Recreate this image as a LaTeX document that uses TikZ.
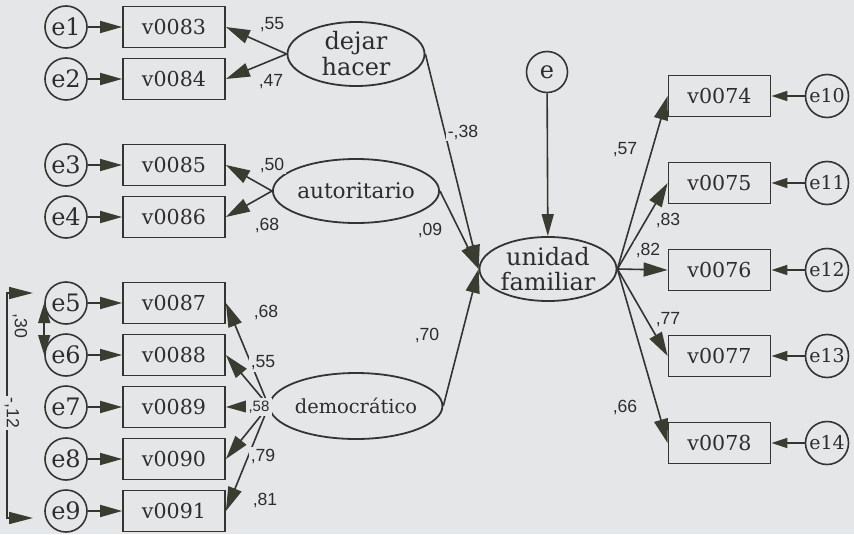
\documentclass[tikz,border=0pt]{standalone}
\usepackage{fontspec}
\newfontfamily\nodefont{DejaVu Serif}
\newfontfamily\labfont{Liberation Sans}
\usetikzlibrary{arrows.meta,shapes.geometric}
\definecolor{bg}{RGB}{229,230,232}
\definecolor{ln}{RGB}{52,52,50}
\definecolor{ah}{RGB}{58,60,50}
\definecolor{txt}{RGB}{45,45,45}
\begin{document}
\begin{tikzpicture}[x=0.5pt,y=-0.5pt,
  obs/.style={draw=ln, line width=0.9pt, rectangle, minimum width=51pt, minimum height=20.5pt,
    inner sep=0pt, text=txt, font=\nodefont\fontsize{10.3}{12}\selectfont},
  err/.style={draw=ln, line width=0.8pt, circle, minimum size=21pt, inner sep=0pt, text=txt,
    font=\nodefont\fontsize{12}{14}\selectfont},
  errs/.style={err, minimum size=21.5pt, font=\nodefont\fontsize{9.5}{11}\selectfont},
  lat/.style={draw=ln, line width=0.9pt, ellipse, minimum width=68.5pt, minimum height=32pt,
    inner sep=0pt, align=center, text=txt},
  arr/.style={draw=ln, line width=0.8pt, -{Triangle[length=11pt,width=6pt,color=ah]}},
  arrs/.style={draw=ln, line width=0.8pt, -{Triangle[length=8pt,width=5pt,color=ah]}},
  load/.style={draw=ln, line width=0.8pt, -{Triangle[length=12pt,width=7pt,color=ah]}},
  lab/.style={font=\labfont\fontsize{8.8}{10}\selectfont, text=txt, fill=bg, inner sep=1pt},
  labs/.style={lab, font=\labfont\fontsize{7.5}{8}\selectfont, inner sep=1.5pt}
]
\fill[bg] (0,0) rectangle (854,534);
\useasboundingbox (0,0) rectangle (854,534);

% left error terms and indicators
\node[err] (e1) at (66,27) {e1};
\node[err] (e2) at (66,79) {e2};
\node[err] (e3) at (66,165) {e3};
\node[err] (e4) at (66,217) {e4};
\node[err] (e5) at (66,303) {e5};
\node[err] (e6) at (66,355) {e6};
\node[err] (e7) at (66,407) {e7};
\node[err] (e8) at (66,459) {e8};
\node[err] (e9) at (66,511) {e9};

\node[obs] (v83) at (174,27) {v0083};
\node[obs] (v84) at (174,79) {v0084};
\node[obs] (v85) at (174,165) {v0085};
\node[obs] (v86) at (174,217) {v0086};
\node[obs] (v87) at (174,303) {v0087};
\node[obs] (v88) at (174,355) {v0088};
\node[obs] (v89) at (174,407) {v0089};
\node[obs] (v90) at (174,459) {v0090};
\node[obs] (v91) at (174,511) {v0091};

% latent variables
\node[lat, font=\nodefont\fontsize{12}{13}\selectfont] (dh) at (356,54) {dejar\\hacer};
\node[lat, font=\nodefont\fontsize{10.8}{12}\selectfont] (aut) at (356,191) {autoritario};
\node[lat, minimum height=33pt, font=\nodefont\fontsize{9.7}{11}\selectfont] (dem) at (356,406) {democrático};
\node[lat, font=\nodefont\fontsize{12}{12.5}\selectfont] (uf) at (548,269) {unidad\\familiar};
\node[err, minimum size=20.5pt] (e) at (547,72) {e};

% right indicators
\node[obs] (v74) at (719.5,96) {v0074};
\node[obs] (v75) at (719.5,183) {v0075};
\node[obs] (v76) at (719.5,270) {v0076};
\node[obs] (v77) at (719.5,356) {v0077};
\node[obs] (v78) at (719.5,443) {v0078};
\node[errs] (e10) at (827,96) {e10};
\node[errs] (e11) at (827,183) {e11};
\node[errs] (e12) at (827,270) {e12};
\node[errs] (e13) at (827,356) {e13};
\node[errs] (e14) at (827,443) {e14};

% error arrows
\foreach \a/\b in {e1/v83,e2/v84,e3/v85,e4/v86,e5/v87,e6/v88,e7/v89,e8/v90,e9/v91}
  \draw[arr] (\a) -- (\b);
\foreach \a/\b in {e10/v74,e11/v75,e12/v76,e13/v77,e14/v78}
  \draw[arrs] (\a) -- (\b);

% loadings
\draw[load] (dh.west) -- (v83.east);
\draw[load] (dh.west) -- (v84.east);
\draw[load] (aut.west) -- (v85.east);
\draw[load] (aut.west) -- (v86.east);
\foreach \b in {v87,v88,v89,v90,v91}
  \draw[load] (dem.west) -- (\b.east);

% structural paths
\draw[load] (dh.east) -- (uf.west);
\draw[load] (aut.east) -- (uf.west);
\draw[load] (dem.east) -- (uf.west);
\draw[arr] (e) -- (uf);
\foreach \b in {v74,v75,v76,v77,v78}
  \draw[load] (uf.east) -- (\b.west);

% covariances
\draw[draw=ln, line width=0.8pt, {Triangle[length=10pt,width=6pt,color=ah]}-{Triangle[length=10pt,width=6pt,color=ah]}]
  (e5.west) -- (e6.west);
\coordinate (c1t) at (33,293);
\coordinate (c1) at (7,293);
\coordinate (c2) at (7,518);
\coordinate (c2t) at (33,518);
\draw[draw=ln, line width=0.8pt, {Triangle[length=12pt,width=6pt,color=ah]}-{Triangle[length=12pt,width=6pt,color=ah]}]
  (c1t) -- (c1) -- (c2) -- (c2t);

% labels
\node[lab] at (272,25) {,55};
\node[lab] at (271,82) {,47};
\node[lab] at (272,165) {,50};
\node[lab] at (267,225) {,68};
\node[lab] at (266,312) {,68};
\node[lab] at (263,363) {,55};
\node[labs] at (259,407) {,58};
\node[lab] at (263,456) {,79};
\node[lab] at (265,500) {,81};
\node[lab] at (463,132) {-,38};
\node[lab] at (430,230) {,09};
\node[lab] at (427,335) {,70};
\node[lab] at (625,150) {,57};
\node[lab] at (668,220) {,83};
\node[lab] at (648,250) {,82};
\node[lab] at (668,320) {,77};
\node[lab] at (625,407) {,66};
\node[lab, rotate=-90] at (20,326) {,30};
\node[lab, rotate=-90] at (12,413) {-,12};
\end{tikzpicture}
\end{document}
